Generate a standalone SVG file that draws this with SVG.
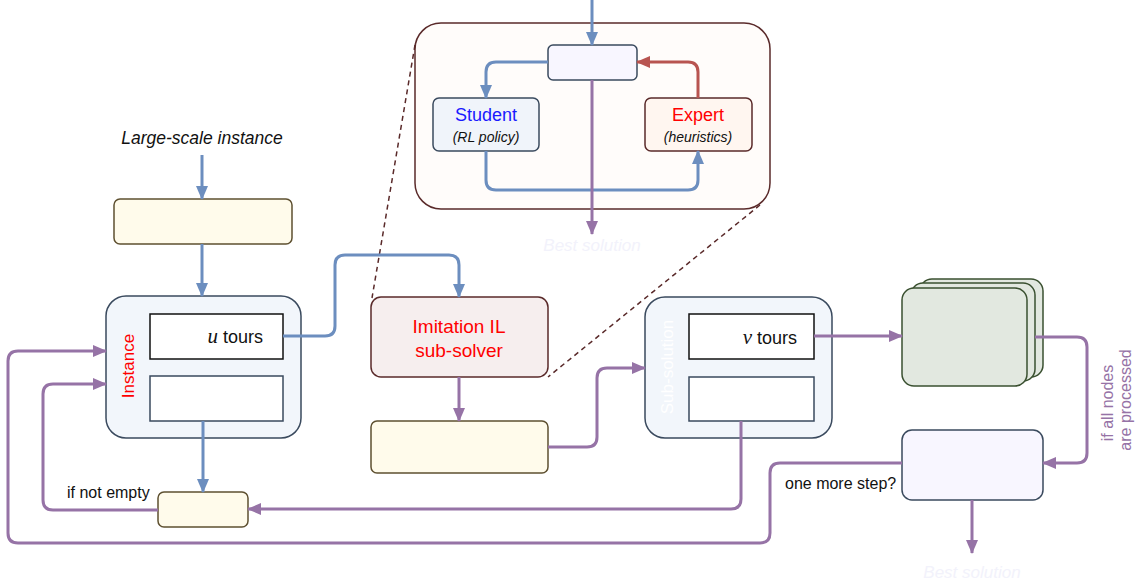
<svg xmlns="http://www.w3.org/2000/svg" width="1139" height="587" viewBox="0 0 1139 587">
  <style>
    text { font-family: "Liberation Sans", Arial, sans-serif; }
    .edge { fill: none; stroke-width: 3; stroke-linejoin: round; }
    .blue { stroke: #6c8ebf; }
    .purple { stroke: #9673a6; }
    .red { stroke: #b85450; }
    .dash { fill: none; stroke: #5a2a2a; stroke-width: 1.5; stroke-dasharray: 5 4; }
    .yellow { fill: #fffbeb; stroke: #5e5030; stroke-width: 1.5; }
    .panel { fill: #f2f6fb; stroke: #3a4a5e; stroke-width: 1.5; }
    .slot { fill: #ffffff; stroke: #3a4a5e; stroke-width: 1.5; }
    .lilac { fill: #f8f6ff; stroke: #3a4a5e; stroke-width: 1.5; }
    .stack { fill: #e2e8e0; stroke: #3a5030; stroke-width: 1.5; }
    .faint { fill: #f2f2fb; font-style: italic; font-size: 17px; }
    .math { font-family: "Liberation Serif", "DejaVu Serif", serif; font-style: italic; font-size: 21px; }
  </style>
  <defs>
    <marker id="ah-blue" markerUnits="userSpaceOnUse" markerWidth="14" markerHeight="12" refX="13" refY="6" orient="auto">
      <path d="M0,0 L14,6 L0,12 z" fill="#6c8ebf"/>
    </marker>
    <marker id="ah-purple" markerUnits="userSpaceOnUse" markerWidth="14" markerHeight="12" refX="13" refY="6" orient="auto">
      <path d="M0,0 L14,6 L0,12 z" fill="#9673a6"/>
    </marker>
    <marker id="ah-red" markerUnits="userSpaceOnUse" markerWidth="14" markerHeight="12" refX="13" refY="6" orient="auto">
      <path d="M0,0 L14,6 L0,12 z" fill="#b85450"/>
    </marker>
  </defs>

  <!-- zoomed view of the IL sub-solver -->
  <g id="il-detail">
    <rect x="415" y="23" width="355" height="186" rx="26" fill="#fffcfa" stroke="#5a2a2a" stroke-width="1.5"/>
  </g>
  <g id="il-state">
    <rect class="lilac" x="548" y="45" width="89" height="35" rx="5"/>
  </g>
  <g id="student">
    <rect x="433" y="98" width="106" height="53" rx="6" fill="#f0f4fa" stroke="#3a4a5e" stroke-width="1.5"/>
    <text x="486" y="121" text-anchor="middle" font-size="18" fill="#1a1aff">Student</text>
    <text x="486" y="142" text-anchor="middle" font-size="14" font-style="italic" fill="#111">(RL policy)</text>
  </g>
  <g id="expert">
    <rect x="645" y="98" width="107" height="53" rx="6" fill="#fff6f0" stroke="#5a2a2a" stroke-width="1.5"/>
    <text x="698" y="121" text-anchor="middle" font-size="18" fill="#ff0000">Expert</text>
    <text x="698" y="142" text-anchor="middle" font-size="14" font-style="italic" fill="#111">(heuristics)</text>
  </g>
  <text class="faint" x="592" y="251" text-anchor="middle">Best solution</text>

  <!-- input -->
  <text x="202" y="144" text-anchor="middle" font-size="17.5" font-style="italic" fill="#111">Large-scale instance</text>
  <g id="preprocess">
    <rect class="yellow" x="114" y="199" width="178" height="45" rx="6"/>
  </g>

  <g id="instance">
    <rect class="panel" x="106" y="296" width="195" height="142" rx="20"/>
    <rect x="150" y="314" width="133" height="45" fill="#fff" stroke="#111" stroke-width="1.5"/>
    <rect class="slot" x="150" y="376" width="133" height="45"/>
    <text x="263" y="343" text-anchor="end" font-size="18" fill="#111"><tspan class="math">u</tspan> tours</text>
    <text transform="translate(134,366) rotate(-90)" text-anchor="middle" font-size="17" fill="#ff0000">Instance</text>
  </g>

  <g id="il-subsolver">
    <rect x="371" y="297" width="177" height="80" rx="10" fill="#f6eeee" stroke="#5a2a2a" stroke-width="1.5"/>
    <text x="459" y="333" text-anchor="middle" font-size="19" fill="#ff0000">Imitation IL</text>
    <text x="459" y="357" text-anchor="middle" font-size="19" fill="#ff0000">sub-solver</text>
  </g>

  <g id="merge">
    <rect class="yellow" x="371" y="421" width="177" height="52" rx="6"/>
  </g>

  <g id="sub-solution">
    <rect class="panel" x="645" y="297" width="187" height="141" rx="20"/>
    <rect x="689" y="314" width="125" height="45" fill="#fff" stroke="#111" stroke-width="1.5"/>
    <rect class="slot" x="689" y="377" width="125" height="44"/>
    <text x="797" y="344" text-anchor="end" font-size="18" fill="#111"><tspan class="math">v</tspan> tours</text>
    <text transform="translate(673,367) rotate(-90)" text-anchor="middle" font-size="17" fill="#ffffff">Sub-solution</text>
  </g>

  <g id="tour-stack">
    <rect class="stack" x="920" y="279" width="123" height="98" rx="12"/>
    <rect class="stack" x="911" y="283" width="124" height="98" rx="12"/>
    <rect class="stack" x="902" y="288" width="125" height="98" rx="12"/>
  </g>

  <g id="best">
    <rect class="lilac" x="902" y="430" width="141" height="70" rx="10"/>
  </g>
  <text class="faint" x="972" y="578" text-anchor="middle">Best solution</text>

  <g id="queue">
    <rect class="yellow" x="158" y="492" width="90" height="35" rx="6"/>
  </g>

  <!-- connector labels -->
  <text x="67" y="498" font-size="16" fill="#111">if not empty</text>
  <text x="785" y="489" font-size="16" fill="#111">one more step?</text>
  <text transform="translate(1113,403) rotate(-90)" text-anchor="middle" font-size="16" fill="#9673a6">if all nodes</text>
  <text transform="translate(1131,400) rotate(-90)" text-anchor="middle" font-size="16" fill="#9673a6">are processed</text>

  <g id="connectors">
    <!-- zoom guides -->
    <path class="dash" d="M415,45 L372,298"/>
    <path class="dash" d="M760,205 L548,377"/>

    <!-- inside the IL sub-solver -->
    <path class="edge blue" d="M592,0 V45" marker-end="url(#ah-blue)"/>
    <path class="edge blue" d="M548,62 H496 Q486,62 486,72 V98" marker-end="url(#ah-blue)"/>
    <path class="edge red" d="M698,98 V72 Q698,62 688,62 H637" marker-end="url(#ah-red)"/>
    <path class="edge blue" d="M486,151 V180 Q486,190 496,190 H688 Q698,190 698,180 V151" marker-end="url(#ah-blue)"/>
    <path class="edge purple" d="M592,80 V234" marker-end="url(#ah-purple)"/>

    <!-- main pipeline -->
    <path class="edge blue" d="M202,155 V199" marker-end="url(#ah-blue)"/>
    <path class="edge blue" d="M202,244 V296" marker-end="url(#ah-blue)"/>
    <path class="edge blue" d="M283,336 H325 Q335,336 335,326 V265 Q335,255 345,255 H449 Q459,255 459,265 V297" marker-end="url(#ah-blue)"/>
    <path class="edge blue" d="M203,421 V492" marker-end="url(#ah-blue)"/>
    <path class="edge purple" d="M459,377 V421" marker-end="url(#ah-purple)"/>
    <path class="edge purple" d="M548,447 H587 Q597,447 597,437 V378 Q597,368 607,368 H645" marker-end="url(#ah-purple)"/>
    <path class="edge purple" d="M814,336 H902" marker-end="url(#ah-purple)"/>
    <path class="edge purple" d="M1035,337 H1077 Q1087,337 1087,347 V453 Q1087,463 1077,463 H1043" marker-end="url(#ah-purple)"/>
    <path class="edge purple" d="M972,500 V553" marker-end="url(#ah-purple)"/>
    <path class="edge purple" d="M741,421 V499 Q741,509 731,509 H248" marker-end="url(#ah-purple)"/>
    <path class="edge purple" d="M158,510 H53 Q43,510 43,500 V394 Q43,384 53,384 H106" marker-end="url(#ah-purple)"/>
    <path class="edge purple" d="M902,463 H780 Q770,463 770,473 V533 Q770,543 760,543 H18 Q8,543 8,533 V361 Q8,351 18,351 H106" marker-end="url(#ah-purple)"/>
  </g>
</svg>
